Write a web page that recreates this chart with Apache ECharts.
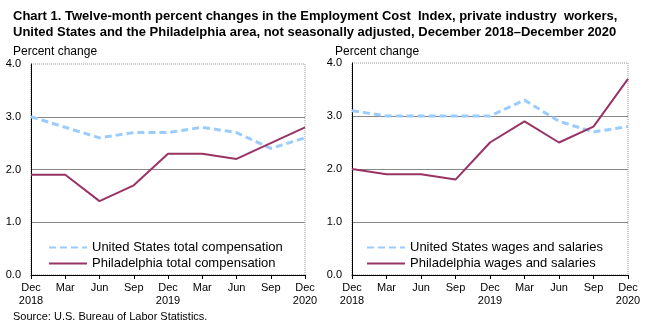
<!DOCTYPE html>
<html><head><meta charset="utf-8">
<script src="https://cdn.jsdelivr.net/npm/echarts@6/dist/echarts.min.js"></script>
<style>html,body{margin:0;padding:0;background:#fff}#c{width:650px;height:325px}</style>
</head><body><div id="c"></div>
<script>
const categories = ['Dec\n2018','Mar','Jun','Sep','Dec\n2019','Mar','Jun','Sep','Dec\n2020'];
const usTotal = [3.0, 2.8, 2.6, 2.7, 2.7, 2.8, 2.7, 2.4, 2.6];
const phlTotal = [1.9, 1.9, 1.4, 1.7, 2.3, 2.3, 2.2, 2.5, 2.8];
const usWages = [3.1, 3.0, 3.0, 3.0, 3.0, 3.3, 2.9, 2.7, 2.8];
const phlWages = [2.0, 1.9, 1.9, 1.8, 2.5, 2.9, 2.5, 2.8, 3.7];
const yTicks = ['0.0','1.0','2.0','3.0','4.0'];

const blue = '#99CCFF', maroon = '#993366';
const font = 'Arial, "Liberation Sans", sans-serif';
const narrow = '"Liberation Sans Narrow", "Arial Narrow", Arial, sans-serif';

function xAxis(i){
  return {gridIndex:i, type:'category', data:categories, boundaryGap:false,
    axisLine:{lineStyle:{color:'#000',width:1}},
    axisTick:{show:true, length:4, lineStyle:{color:'#000'}},
    axisLabel:{color:'#000', fontSize:11, fontFamily:font, lineHeight:13, margin:6, interval:0},
    splitLine:{show:false}};
}
function yAxis(i){
  return {gridIndex:i, type:'value', min:0, max:4, interval:1,
    axisLine:{show:true, lineStyle:{color:'#000',width:1}},
    axisTick:{show:false},
    axisLabel:{color:'#000', fontSize:11, fontFamily:font, margin:10,
      formatter:(v)=>yTicks[Math.round(v)]},
    splitLine:{show:true, showMaxLine:false, showMinLine:false, lineStyle:{color:'#888',width:1}}};
}
function legend(names, left){
  return {data:names, orient:'vertical', left:left, top:241, itemWidth:38, itemHeight:3, itemGap:3, padding:0,
    itemStyle:{opacity:0}, textStyle:{fontSize:13, fontFamily:font, color:'#000'}};
}
const chart = echarts.init(document.getElementById('c'), null, {renderer:'canvas'});
chart.setOption({
  animation:false,
  backgroundColor:'#fff',
  title:[
    {text:'Chart 1. Twelve-month percent changes in the Employment Cost  Index, private industry  workers,\nUnited States and the Philadelphia area, not seasonally adjusted, December 2018\u2013December 2020',
     left:8, top:3, textStyle:{fontSize:13, fontWeight:'bold', fontFamily:narrow, color:'#000', lineHeight:16}},
    {text:'Percent change', left:8, top:41, textStyle:{fontSize:12, fontWeight:'normal', fontFamily:narrow, color:'#000'}},
    {text:'Percent change', left:330, top:41, textStyle:{fontSize:12, fontWeight:'normal', fontFamily:narrow, color:'#000'}},
    {text:'Source: U.S. Bureau of Labor Statistics.', left:8, top:306, textStyle:{fontSize:11, fontWeight:'normal', fontFamily:narrow, color:'#000'}}
  ],
  grid:[
    {left:31, top:64, width:274, height:211, show:true, borderColor:'#999', borderWidth:1, borderType:'dotted'},
    {left:352, top:63, width:276, height:212, show:true, borderColor:'#999', borderWidth:1, borderType:'dotted'}
  ],
  xAxis:[xAxis(0), xAxis(1)],
  yAxis:[yAxis(0), yAxis(1)],
  legend:[
    legend(['United States total compensation','Philadelphia total compensation'], 48),
    legend(['United States wages and salaries','Philadelphia wages and salaries'], 366)
  ],
  series:[
    {name:'United States total compensation', type:'line', xAxisIndex:0, yAxisIndex:0, data:usTotal,
     symbol:'none', lineStyle:{color:blue, width:3, type:[7,4]}, itemStyle:{color:blue}},
    {name:'Philadelphia total compensation', type:'line', xAxisIndex:0, yAxisIndex:0, data:phlTotal,
     symbol:'none', lineStyle:{color:maroon, width:2}, itemStyle:{color:maroon}},
    {name:'United States wages and salaries', type:'line', xAxisIndex:1, yAxisIndex:1, data:usWages,
     symbol:'none', lineStyle:{color:blue, width:3, type:[7,4]}, itemStyle:{color:blue}},
    {name:'Philadelphia wages and salaries', type:'line', xAxisIndex:1, yAxisIndex:1, data:phlWages,
     symbol:'none', lineStyle:{color:maroon, width:2}, itemStyle:{color:maroon}}
  ]
});
</script></body></html>
